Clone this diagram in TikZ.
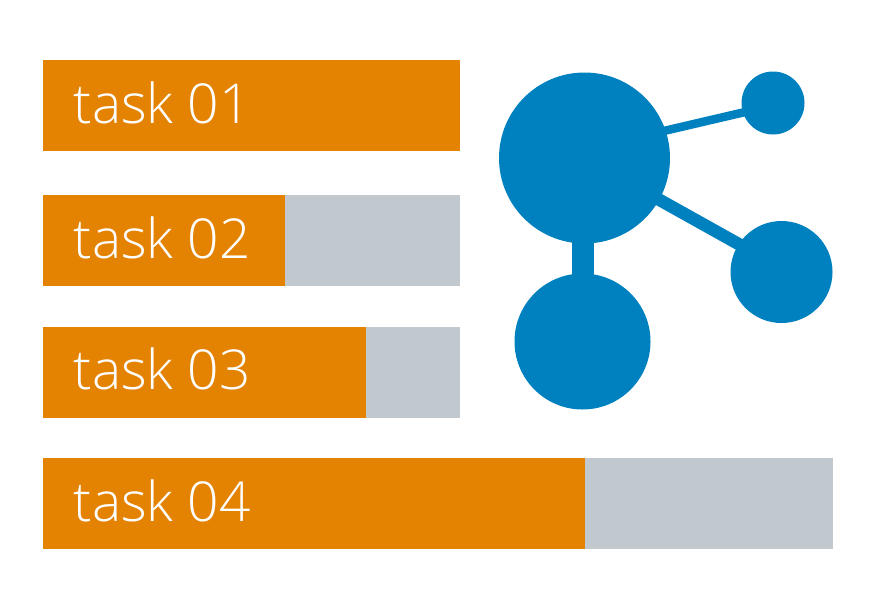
\documentclass[tikz,border=0pt]{standalone}
\usepackage{fontspec}
\setmainfont{Open Sans Light}
\definecolor{taskorange}{HTML}{E48202}
\definecolor{taskgray}{HTML}{C1C8CE}
\definecolor{hubblue}{HTML}{0081BF}
\tikzset{
barpart/.style={anchor=north west,minimum height=91pt,inner sep=0pt,outer sep=0pt},
done/.style={barpart,fill=taskorange},
rest/.style={barpart,fill=taskgray},
tasklabel/.style={anchor=base west,inner sep=0pt,text=white,font=\fontsize{55}{55}\selectfont},
hub/.style={circle,fill=hubblue,inner sep=0pt,outer sep=0pt},
spoke/.style={line width=#1,draw=hubblue}
}
\begin{document}
\begin{tikzpicture}[x=1pt,y=-1pt]
\useasboundingbox (0,0) rectangle (877,602);
% bars
\node[done,minimum width=416.5pt] (bar1) at (43,60) {};
\node[rest,minimum width=416.5pt] (rest2) at (43,195) {};
\node[done,minimum width=242pt] (bar2) at (43,195) {};
\node[rest,minimum width=416.5pt] (rest3) at (43,327) {};
\node[done,minimum width=322.5pt] (bar3) at (43,327) {};
\node[rest,minimum width=790pt] (rest4) at (43,458) {};
\node[done,minimum width=541.5pt] (bar4) at (43,458) {};
% labels
\node[tasklabel] (lab1) at (73.5,123) {task 01};
\node[tasklabel] (lab2) at (73.5,258) {task 02};
\node[tasklabel] (lab3) at (73.5,389) {task 03};
\node[tasklabel] (lab4) at (73.5,521) {task 04};
% network
\node[hub,minimum size=171pt] (big) at (584.5,158) {};
\node[hub,minimum size=63pt] (top) at (773,103) {};
\node[hub,minimum size=102pt] (right) at (781.5,272) {};
\node[hub,minimum size=136pt] (low) at (582.5,341.5) {};
\draw[spoke=8.5pt] ([yshift=8.5pt]big.center) -- ([yshift=-2.5pt]top.center);
\draw[spoke=12.5pt] (big.center) -- ([yshift=4pt]right.center);
\draw[spoke=22pt] (low.center) -- (low.center |- big.center);
\end{tikzpicture}
\end{document}
